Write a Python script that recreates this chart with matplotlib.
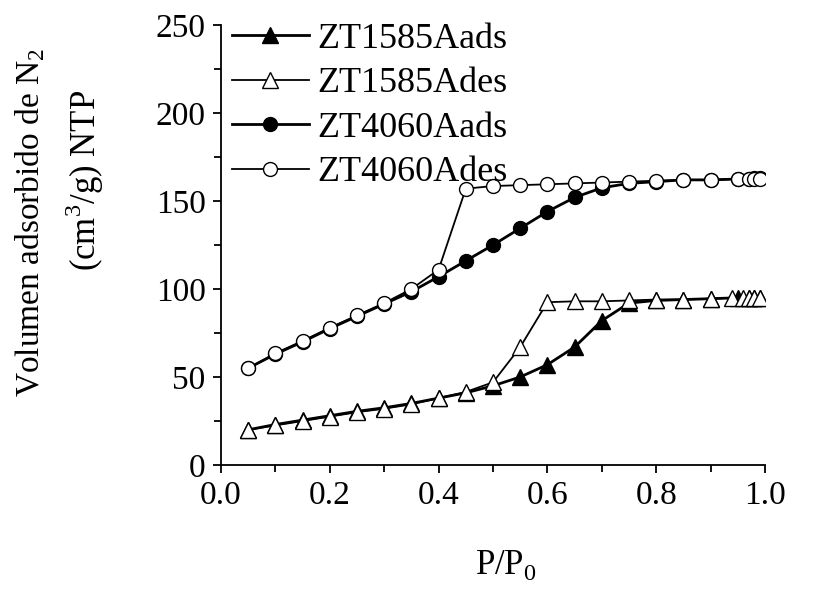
import matplotlib
matplotlib.use("Agg")
import matplotlib.pyplot as plt
from matplotlib.ticker import MultipleLocator

plt.rcParams['font.family'] = ['Liberation Serif', 'DejaVu Serif']
plt.rcParams['mathtext.fontset'] = 'custom'
plt.rcParams['mathtext.rm'] = 'Liberation Serif'

# ZT1585A adsorption (filled triangles)
x_1585_ads = [0.05, 0.10, 0.15, 0.20, 0.25, 0.30, 0.35, 0.40, 0.45, 0.50, 0.55, 0.60,
              0.65, 0.70, 0.75, 0.80, 0.85, 0.90, 0.95, 0.97, 0.98, 0.99]
y_1585_ads = [20, 23, 25.5, 28, 30.5, 32.5, 35, 38, 41, 45, 50, 57,
              67, 82, 92, 93.5, 94, 94.5, 95, 95, 95, 95]
# ZT1585A desorption (open triangles)
x_1585_des = [0.05, 0.10, 0.15, 0.20, 0.25, 0.30, 0.35, 0.40, 0.45, 0.50, 0.55, 0.60,
              0.65, 0.70, 0.75, 0.80, 0.85, 0.90, 0.94, 0.96, 0.97, 0.98, 0.99]
y_1585_des = [20, 22.5, 25, 27.5, 30, 32, 34.5, 38, 41.5, 47, 67, 92.5,
              93, 93, 93.5, 94, 94, 94.5, 95, 95, 95, 95, 95]
# ZT4060A adsorption (filled circles)
x_4060_ads = [0.05, 0.10, 0.15, 0.20, 0.25, 0.30, 0.35, 0.40, 0.45, 0.50, 0.55, 0.60,
              0.65, 0.70, 0.75, 0.80, 0.85, 0.90, 0.95, 0.97, 0.98, 0.99]
y_4060_ads = [55, 63, 70, 77.5, 84.5, 91.5, 98.5, 107, 116, 125, 134.5, 144,
              152, 157.5, 160, 161, 162, 162, 162.5, 162.5, 163, 163]
# ZT4060A desorption (open circles)
x_4060_des = [0.05, 0.10, 0.15, 0.20, 0.25, 0.30, 0.35, 0.40, 0.45, 0.50, 0.55, 0.60,
              0.65, 0.70, 0.75, 0.80, 0.85, 0.90, 0.95, 0.97, 0.98, 0.99]
y_4060_des = [55, 63.5, 70.5, 78, 85, 92, 100, 111, 157, 158.5, 159, 159.5,
              160, 160.5, 161, 161.5, 162, 162, 162.5, 162.5, 162.5, 162.5]

labels = ['ZT1585Aads', 'ZT1585Ades', 'ZT4060Aads', 'ZT4060Ades']

W, H = 820, 590
fig = plt.figure(figsize=(W / 100, H / 100), dpi=100)
ax = fig.add_axes([221 / W, 1 - 465 / H, (765 - 221) / W, (465 - 25) / H])

ms = 10
l1, = ax.plot(x_1585_ads, y_1585_ads, '-^', color='black', lw=2.0, ms=ms + 1,
              mfc='black', mec='black', mew=1.0, label=labels[0], zorder=3)
l3, = ax.plot(x_4060_ads, y_4060_ads, '-o', color='black', lw=2.0, ms=ms,
              mfc='black', mec='black', mew=1.0, label=labels[2], zorder=3)
l2, = ax.plot(x_1585_des, y_1585_des, '-^', color='black', lw=1.3, ms=ms + 1,
              mfc='white', mec='black', mew=1.0, label=labels[1], zorder=4)
l4, = ax.plot(x_4060_des, y_4060_des, '-o', color='black', lw=1.3, ms=ms,
              mfc='white', mec='black', mew=1.0, label=labels[3], zorder=4)

ax.set_xlim(0.0, 1.0)
ax.set_ylim(0, 250)
ax.xaxis.set_major_locator(MultipleLocator(0.2))
ax.xaxis.set_minor_locator(MultipleLocator(0.1))
ax.yaxis.set_major_locator(MultipleLocator(50))
ax.yaxis.set_minor_locator(MultipleLocator(25))
ax.xaxis.set_major_formatter(plt.FuncFormatter(lambda v, p: f"{v:.1f}"))
ax.yaxis.set_major_formatter(plt.FuncFormatter(lambda v, p: f"{int(round(v))}"))

for s in ['top', 'right']:
    ax.spines[s].set_visible(False)
for s in ['left', 'bottom']:
    ax.spines[s].set_linewidth(1.3)
ax.tick_params(which='major', direction='out', length=6, width=1.3, labelsize=24, pad=5)
ax.tick_params(which='minor', direction='out', length=5, width=1.3)

leg = ax.legend(handles=[l1, l2, l3, l4], loc='upper left',
                bbox_to_anchor=(228 / W, 1 - 19 / H), bbox_transform=fig.transFigure,
                frameon=False, fontsize=26, handlelength=2.15, handletextpad=0.22,
                labelspacing=0.31, borderaxespad=0, borderpad=0.1)

fig.text(30 / W, 1 - 222 / H, r'Volumen adsorbido de N$_2$', rotation=90,
         ha='center', va='center', fontsize=24)
fig.text(85 / W, 1 - 180 / H, r'(cm$^3$/g) NTP', rotation=90,
         ha='center', va='center', fontsize=25)
fig.text(506 / W, 1 - 565 / H, r'P/P$_0$', ha='center', va='center', fontsize=25)

fig.savefig('out.png', dpi=100)
